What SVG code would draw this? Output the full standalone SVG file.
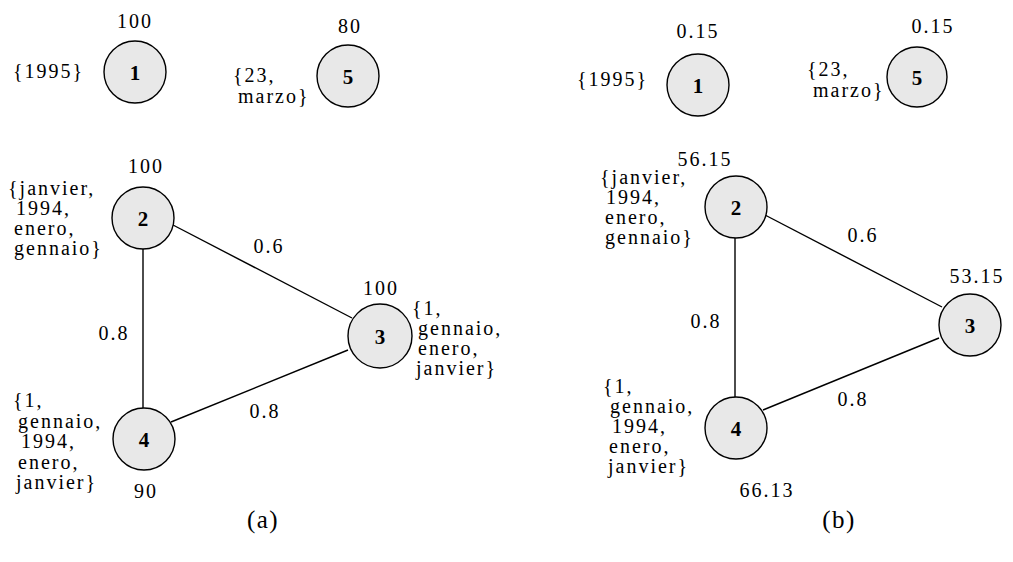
<svg xmlns="http://www.w3.org/2000/svg" width="1013" height="562" viewBox="0 0 1013 562">
<style>
text{font-family:"Liberation Serif","Times New Roman",serif;font-size:20px;fill:#000;letter-spacing:2px}
.n circle{fill:#e8e8e8;stroke:#000;stroke-width:1.4}
.n text.id{font-weight:bold;font-size:21px;letter-spacing:0;text-anchor:middle}
.m{text-anchor:middle}
.e line{stroke:#000;stroke-width:1.4}
.cap{font-size:25px;letter-spacing:1.5px;text-anchor:middle}
</style>
<rect width="1013" height="562" fill="#fff"/>
<!-- panel (a) -->
<g class="e" id="edges-a">
<line x1="173" y1="225" x2="352" y2="318"/>
<line x1="143" y1="249" x2="143" y2="408"/>
<line x1="171" y1="422" x2="348" y2="350"/>
</g>
<g id="edge-labels-a">
<text x="269" y="253" class="m">0.6</text>
<text x="114" y="340" class="m">0.8</text>
<text x="265" y="418" class="m">0.8</text>
</g>
<g class="n" id="a1">
<circle cx="135" cy="72" r="31"/>
<text class="id" x="135" y="80">1</text>
<text x="135" y="28" class="m">100</text>
<text x="13" y="78">{1995}</text>
</g>
<g class="n" id="a5">
<circle cx="348" cy="76" r="31"/>
<text class="id" x="348" y="84">5</text>
<text x="350" y="33" class="m">80</text>
<text x="233" y="82">{23,<tspan x="238" dy="21">marzo}</tspan></text>
</g>
<g class="n" id="a2">
<circle cx="143" cy="218" r="31"/>
<text class="id" x="143" y="226">2</text>
<text x="146" y="173" class="m">100</text>
<text x="8" y="195">{janvier,<tspan x="16" dy="20">1994,</tspan><tspan x="14" dy="20">enero,</tspan><tspan x="14" dy="20">gennaio}</tspan></text>
</g>
<g class="n" id="a4">
<circle cx="144" cy="439" r="31"/>
<text class="id" x="144" y="447">4</text>
<text x="146" y="498" class="m">90</text>
<text x="13" y="407">{1,<tspan x="18" dy="20.5">gennaio,</tspan><tspan x="21" dy="20.5">1994,</tspan><tspan x="18" dy="20.5">enero,</tspan><tspan x="16" dy="20.5">janvier}</tspan></text>
</g>
<g class="n" id="a3">
<circle cx="380" cy="336" r="32"/>
<text class="id" x="380" y="344">3</text>
<text x="381" y="295" class="m">100</text>
<text x="412" y="315">{1,<tspan x="418" dy="20">gennaio,</tspan><tspan x="418" dy="20">enero,</tspan><tspan x="416" dy="20">janvier}</tspan></text>
</g>
<text x="263" y="528" class="cap">(a)</text>
<!-- panel (b) -->
<g class="e" id="edges-b">
<line x1="765" y1="215" x2="942" y2="307"/>
<line x1="735" y1="238" x2="735" y2="397"/>
<line x1="763" y1="410" x2="939" y2="338"/>
</g>
<g id="edge-labels-b">
<text x="863" y="242" class="m">0.6</text>
<text x="706" y="328" class="m">0.8</text>
<text x="853" y="406" class="m">0.8</text>
</g>
<g class="n" id="b1">
<circle cx="698" cy="85" r="31"/>
<text class="id" x="698" y="93">1</text>
<text x="698" y="38" class="m">0.15</text>
<text x="577" y="86">{1995}</text>
</g>
<g class="n" id="b5">
<circle cx="917" cy="77" r="30"/>
<text class="id" x="917" y="85">5</text>
<text x="933" y="33" class="m">0.15</text>
<text x="807" y="76">{23,<tspan x="813" dy="21">marzo}</tspan></text>
</g>
<g class="n" id="b2">
<circle cx="736" cy="207" r="31"/>
<text class="id" x="736" y="215">2</text>
<text x="705" y="166" class="m">56.15</text>
<text x="600" y="184">{janvier,<tspan x="606" dy="20">1994,</tspan><tspan x="605" dy="20">enero,</tspan><tspan x="605" dy="20">gennaio}</tspan></text>
</g>
<g class="n" id="b4">
<circle cx="736" cy="428" r="31"/>
<text class="id" x="736" y="436">4</text>
<text x="767" y="497" class="m">66.13</text>
<text x="603" y="393">{1,<tspan x="610" dy="20">gennaio,</tspan><tspan x="612" dy="20">1994,</tspan><tspan x="609" dy="20">enero,</tspan><tspan x="608" dy="20">janvier}</tspan></text>
</g>
<g class="n" id="b3">
<circle cx="970" cy="325" r="31"/>
<text class="id" x="970" y="333">3</text>
<text x="977" y="283" class="m">53.15</text>
</g>
<text x="839" y="528" class="cap">(b)</text>
</svg>
